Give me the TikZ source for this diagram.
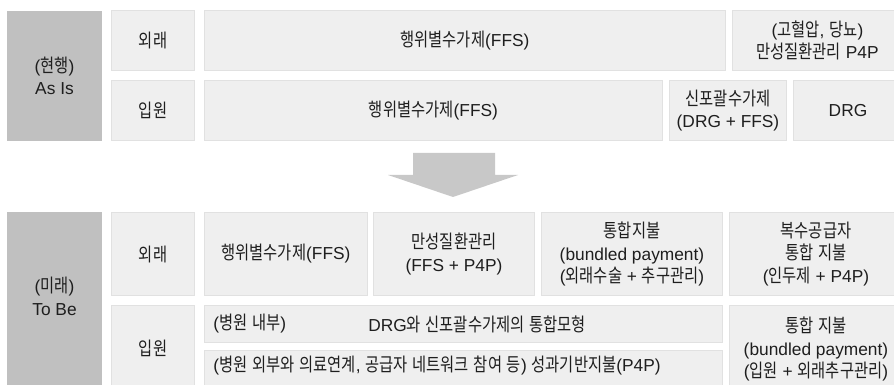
\documentclass[tikz,border=0pt]{standalone}
\usepackage{fontspec}
\setmainfont{Liberation Sans}
\newfontfamily\krfont{Noto Sans CJK KR}[Scale=1.08,FakeStretch=0.82]
\XeTeXinterchartokenstate=1
\newXeTeXintercharclass\krclass
\newcount\hcc
\hcc="AC00
\loop
  \XeTeXcharclass\hcc=\krclass\relax
  \ifnum\hcc<"D7A3\relax \advance\hcc by 1 \repeat
\XeTeXinterchartoks 0 \krclass = {\krfont}
\XeTeXinterchartoks 4095 \krclass = {\krfont}
\XeTeXinterchartoks \krclass 0 = {\rmfamily}
\XeTeXinterchartoks \krclass 4095 = {\rmfamily}
\definecolor{boxfill}{RGB}{239,239,239}
\definecolor{boxline}{RGB}{225,225,225}
\definecolor{sidegray}{RGB}{192,192,192}
\definecolor{arrowgray}{RGB}{200,200,200}
\definecolor{txt}{RGB}{30,30,30}
\newcommand\fs{\fontsize{13}{17}\selectfont}
\newcommand\mybox[6]{\node[box, minimum width={(#4-#2)*0.75pt-0.9pt}, minimum height={(#5-#3)*0.75pt-0.9pt}] (#1) at ({(#2+#4)/2},{(#3+#5)/2}) {#6};}
\newcommand\myside[6]{\node[side, minimum width={(#4-#2)*0.75pt}, minimum height={(#5-#3)*0.75pt}] (#1) at ({(#2+#4)/2},{(#3+#5)/2}) {#6};}
\begin{document}
\begin{tikzpicture}[x=0.75pt,y=-0.75pt,
  box/.style={draw=boxline, fill=boxfill, line width=0.9pt, inner sep=0pt, align=center, text=txt, font=\fs},
  side/.style={fill=sidegray, inner sep=0pt, align=center, text=txt, font=\fs},
  lbl/.style={text=txt, font=\fs, align=center, inner sep=0pt}]
\path[use as bounding box] (0,0) rectangle (894,385);
\clip (0,0) rectangle (894,385);
% ---- As Is ----
\myside{asis}{7}{11}{102}{141}{(현행)\\As Is}
\mybox{ow1}{111}{10}{195}{71}{외래}
\mybox{ip1}{111}{80}{195}{141}{입원}
\mybox{ffs1}{204}{10}{726}{71}{행위별수가제(FFS)}
\mybox{p4p1}{732}{10}{903}{71}{(고혈압, 당뇨)\\만성질환관리 P4P}
\mybox{ffs2}{204}{80}{663}{141}{행위별수가제(FFS)}
\mybox{npc}{669}{80}{787}{141}{신포괄수가제\\(DRG + FFS)}
\mybox{drg}{793}{80}{903}{141}{DRG}
% ---- arrow ----
\fill[arrowgray] (413,153) -- (495,153) -- (495,175) -- (518,175) -- (453,197) -- (388,175) -- (413,175) -- cycle;
% ---- To Be ----
\myside{tobe}{7}{212}{102}{392}{}
\node[lbl] (tobet) at (54.5,296.5) {(미래)\\To Be};
\mybox{ow2}{111}{212}{195}{296}{외래}
\mybox{ip2}{111}{305}{195}{392}{입원}
\mybox{ffs3}{204}{212}{368}{296}{행위별수가제(FFS)}
\mybox{chr}{373}{212}{535}{296}{만성질환관리\\(FFS + P4P)}
\mybox{bund}{541}{212}{723}{296}{통합지불\\(bundled payment)\\(외래수술 + 추구관리)}
\mybox{multi}{729}{212}{903}{296}{복수공급자\\통합 지불\\(인두제 + P4P)}
\mybox{inner}{204}{305}{723}{343}{}
\node[lbl, anchor=west] (innert) at (213,324) {(병원 내부)};
\node[lbl, anchor=west] (drgt) at (368,324) {DRG와 신포괄수가제의 통합모형};
\mybox{outer}{204}{350}{723}{392}{}
\node[lbl, anchor=west] (outert) at (213,366) {(병원 외부와 의료연계, 공급자 네트워크 참여 등) 성과기반지불(P4P)};
\mybox{bund2}{729}{305}{903}{393}{통합 지불\\(bundled payment)\\(입원 + 외래추구관리)}
\end{tikzpicture}
\end{document}
